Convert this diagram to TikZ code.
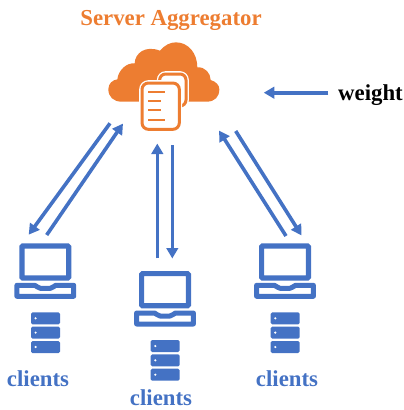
\documentclass[tikz,border=0pt]{standalone}
\usepackage{fontspec}
\setmainfont{Liberation Serif}
\usetikzlibrary{arrows.meta}
\definecolor{cblue}{HTML}{4472C4}
\definecolor{corange}{HTML}{ED7D31}
\tikzset{
  flow/.style={draw=cblue,line width=3.6pt,-{Triangle[length=10.5pt,width=11.5pt]},shorten >=-0.5pt},
  label/.style={font=\bfseries\fontsize{22.8pt}{24pt}\selectfont,anchor=base,inner sep=0pt},
  client/.style={label,text=cblue},
  srv/.style={fill=cblue,rounded corners=1.5pt},
  laptop/.pic={
    \draw[cblue,line width=5.2pt,rounded corners=1pt] (2.6,2.6) rectangle (49.4,34.7);
    \draw[cblue,line width=5pt,line join=round] (-2.4,42) -- (15.5,42) .. controls (17.5,42) and (18,45) .. (21,45) -- (31,45) .. controls (34,45) and (34.5,42) .. (36.5,42) -- (54.4,42) -- (54.4,53) -- (-2.4,53) -- cycle;
    \foreach \t in {69,83.3,97.7}{
      \fill[srv] (11.7,\t) rectangle (40.7,\t+12);
      \fill[white] (16.3,\t+6) circle (1.2pt);
    }
  }
}
\begin{document}
\begin{tikzpicture}[x=1pt,y=-1pt]
\useasboundingbox (0,0) rectangle (404,410);
% cloud with documents
\begin{scope}[shift={(90,0)},x=0.33333pt,y=-0.33333pt]
  \fill[corange] (95,305) .. controls (70,305) and (55,290) .. (55,268) .. controls (55,250) and (68,240) .. (82,238) .. controls (85,210) and (110,188) .. (134,190) .. controls (135,160) and (165,135) .. (210,152) .. controls (225,135) and (240,127) .. (258,127) .. controls (295,127) and (322,160) .. (322,202) .. controls (345,200) and (362,220) .. (362,240) .. controls (378,245) and (388,255) .. (388,268) .. controls (388,290) and (375,305) .. (350,305) -- cycle;
  \draw[white,line width=5.6pt,fill=white,rounded corners=6pt] (209,222) rectangle (288,318);
  \draw[corange,line width=3pt,rounded corners=6pt] (209,222) rectangle (288,318);
  \draw[white,line width=5.6pt,fill=white,rounded corners=6.5pt] (156,249) rectangle (268,388);
  \draw[corange,line width=3pt,rounded corners=6.5pt] (156,249) rectangle (268,388);
  \draw[corange,line width=2.2pt] (175,275) -- (226,275) (175,303) -- (213,303) (175,331) -- (213,331) (175,359) -- (226,359);
\end{scope}
% labels
\node[label,text=corange] (title) at (171,25) {Server Aggregator};
\node[label,text=black] (weightlabel) at (370.5,100.7) {weight};
\node[client] (c1) at (38,386) {clients};
\node[client] (c2) at (161,405) {clients};
\node[client] (c3) at (287,386.5) {clients};
% laptops
\pic at (19.3,243.3) {laptop};
\pic at (139,271) {laptop};
\pic at (259,243.3) {laptop};
% arrow ends
\coordinate (la) at (110,123.3); \coordinate (lb) at (29,234.3);
\coordinate (lc) at (46.7,235); \coordinate (ld) at (122.7,124);
\coordinate (ma) at (157.3,258.3); \coordinate (mb) at (157.3,144);
\coordinate (mc) at (172.3,145); \coordinate (md) at (172.3,258);
\coordinate (ra) at (286,236); \coordinate (rb) at (219.3,131);
\coordinate (rc) at (235.7,131); \coordinate (rd) at (301.3,235);
\coordinate (wa) at (328.3,92.7); \coordinate (wb) at (264.3,92.7);
\draw[flow] (la) -- (lb);
\draw[flow] (lc) -- (ld);
\draw[flow] (ma) -- (mb);
\draw[flow] (mc) -- (md);
\draw[flow] (ra) -- (rb);
\draw[flow] (rc) -- (rd);
\draw[flow] (wa) -- (wb);
\end{tikzpicture}
\end{document}
